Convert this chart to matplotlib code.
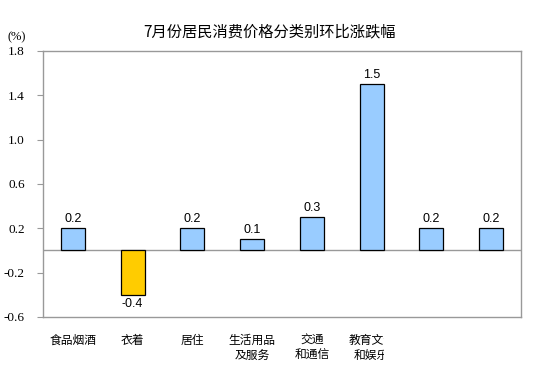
import matplotlib
matplotlib.use("Agg")
import matplotlib.pyplot as plt
from matplotlib.transforms import Bbox, TransformedBbox, blended_transform_factory

# ── data ──────────────────────────────────────────────────────────────────────
categories = ["食品烟酒", "衣着", "居住", "生活用品\n及服务", "交通\n和通信",
              "教育文化\n和娱乐", "医疗保健", "其他用品\n和服务"]
# labels as they show in the picture (last two are not drawn, 6th is cut off)
shown_labels = ["食品烟酒", "衣着", "居住", "生活用品\n及服务", "交通\n和通信",
                "教育文化\n和娱乐", "", ""]
values = [0.2, -0.4, 0.2, 0.1, 0.3, 1.5, 0.2, 0.2]
yticks = [-0.6, -0.2, 0.2, 0.6, 1.0, 1.4, 1.8]

BLUE = "#99ccff"
YELLOW = "#ffcc00"
GREY = "#999999"
CJK = ["Noto Sans CJK SC", "DejaVu Sans"]

# ── plot ──────────────────────────────────────────────────────────────────────
fig = plt.figure(figsize=(5.54, 3.84), dpi=100)
ax = fig.add_axes([0.0776, 0.1745, 0.8628, 0.6927])

x = range(len(values))
colors = [BLUE if v >= 0 else YELLOW for v in values]
ax.bar(x, values, width=0.4, color=colors, edgecolor="black", linewidth=0.9, zorder=3)

for xi, v in zip(x, values):
    if v >= 0:
        ax.text(xi, v + 0.03, f"{v:.1f}", ha="center", va="bottom",
                fontsize=9, family="Liberation Sans")
    else:
        ax.text(xi, v - 0.03, f"{v:.1f}", ha="center", va="top",
                fontsize=9, family="Liberation Sans")

ax.axhline(0, color=GREY, lw=1, zorder=2)
ax.set_xlim(-0.5, len(values) - 0.5)
ax.set_ylim(-0.6, 1.8)
ax.set_yticks(yticks)
ax.set_yticklabels([f"{t:.1f}" for t in yticks], family="Liberation Serif", fontsize=9.5)
ax.tick_params(axis="y", direction="out", length=4, color=GREY, pad=9)

ax.set_xticks(list(x))
ax.set_xticklabels(shown_labels, family=CJK, fontsize=8.5, linespacing=1.25, va="top")
ax.tick_params(axis="x", length=0, pad=12)

for sp in ax.spines.values():
    sp.set_color(GREY)
    sp.set_linewidth(1)

# the 6th label is cut off right of its bar in the original
clip = TransformedBbox(Bbox.from_extents(4.5, 0, 5.2, 1),
                       blended_transform_factory(ax.transData, fig.transFigure))
lab = ax.get_xticklabels()[5]
lab.set_clip_on(True)
lab.set_clip_box(clip)

fig.text(270 / 554, 1 - 32 / 384, "7月份居民消费价格分类别环比涨跌幅",
         ha="center", va="center", family=CJK, fontsize=11)
fig.text(17 / 554, 1 - 37 / 384, "(%)", ha="center", va="center",
         family="Liberation Serif", fontsize=9)

fig.savefig("out.png", dpi=100)
plt.close()
